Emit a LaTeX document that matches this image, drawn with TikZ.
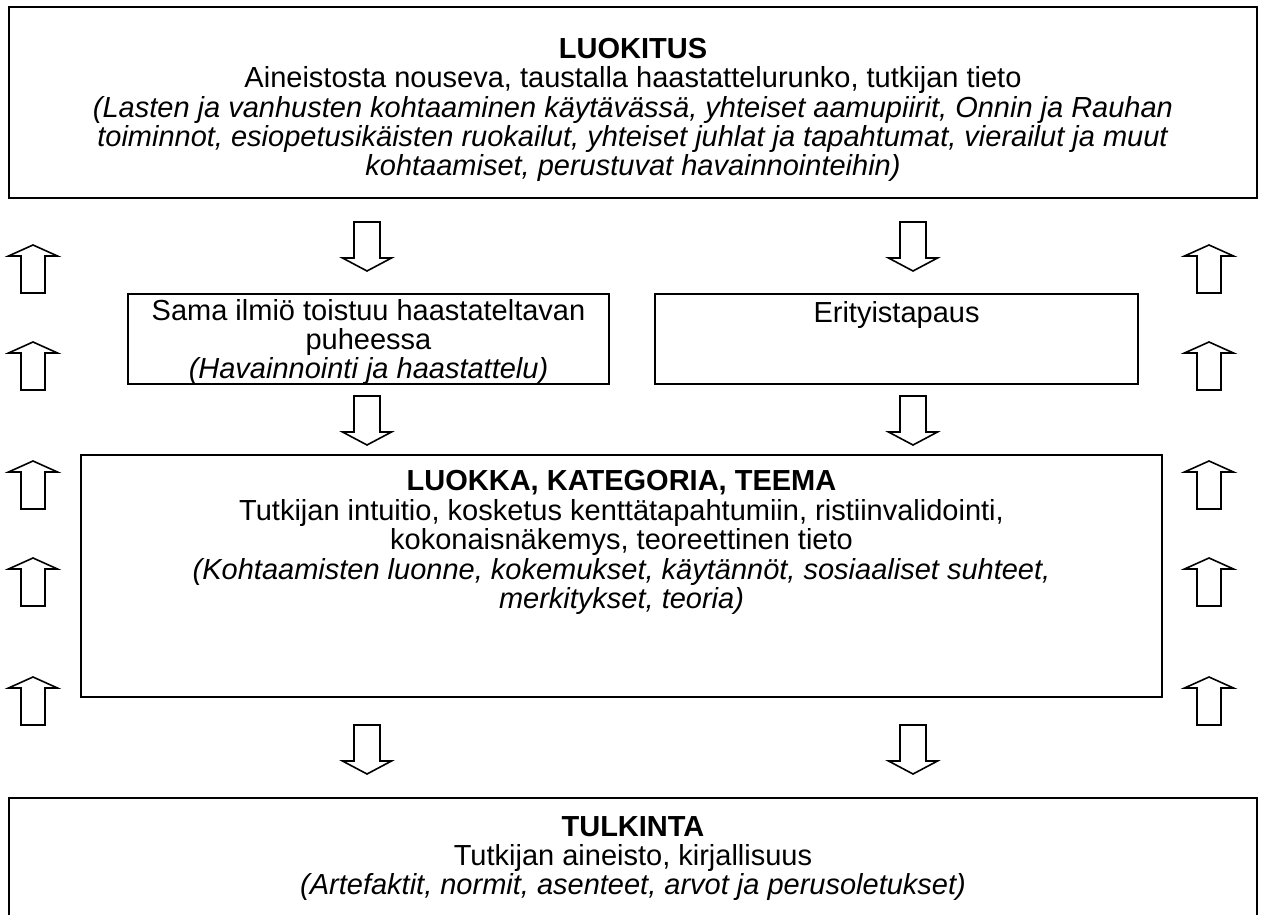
\documentclass[tikz,border=0pt]{standalone}
\usepackage{fontspec}
\setmainfont{Liberation Sans}
\tikzset{
  blockarrow/.style={draw, line width=0.8pt, line join=miter},
  uparr/.pic={\draw[blockarrow] (0,0) -- (24.5,11) -- (12,11) -- (12,48) -- (-12,48) -- (-12,11) -- (-24.5,11) -- cycle;},
  downarr/.pic={\draw[blockarrow] (0,0) -- (24.5,-13) -- (13,-13) -- (13,-49) -- (-13,-49) -- (-13,-13) -- (-24.5,-13) -- cycle;}
}
\begin{document}
\begin{tikzpicture}[x=0.5pt,y=-0.5pt,
    box/.style={draw, line width=1pt, inner sep=0pt},
    txt/.style={align=center, inner sep=0pt, font=\fontsize{14.5}{14.7}\selectfont}]
    \useasboundingbox (0,0) rectangle (1261,914);
    % boxes
    \node[box, minimum width=624pt, minimum height=95.5pt] (luokitus) at (633,102.5) {};
    \node[box, minimum width=240.5pt, minimum height=45pt] (sama) at (368.5,339) {};
    \node[box, minimum width=241.5pt, minimum height=45pt] (erity) at (896.5,339) {};
    \node[box, minimum width=540.5pt, minimum height=121pt] (luokka) at (621.5,576) {};
    \node[box, minimum width=624pt, minimum height=66pt] (tulkinta) at (633,864) {};
    % texts
    \node[txt] (luokitusTxt) at (633,110) {\textbf{LUOKITUS}\\
      Aineistosta nouseva, taustalla haastattelurunko, tutkijan tieto\\
      \textit{(Lasten ja vanhusten kohtaaminen käytävässä, yhteiset aamupiirit, Onnin ja Rauhan}\\
      \textit{toiminnot, esiopetusikäisten ruokailut, yhteiset juhlat ja tapahtumat, vierailut ja muut}\\
      \textit{kohtaamiset, perustuvat havainnointeihin)}};
    \node[txt] (samaTxt) at (368.5,342) {Sama ilmiö toistuu haastateltavan\\ puheessa\\
      \textit{(Havainnointi ja haastattelu)}};
    \node[txt] (erityTxt) at (896.5,315) {Erityistapaus};
    \node[txt] (luokkaTxt) at (621.5,542.5) {\textbf{LUOKKA, KATEGORIA, TEEMA}\\
      Tutkijan intuitio, kosketus kenttätapahtumiin, ristiinvalidointi,\\
      kokonaisnäkemys, teoreettinen tieto\\
      \textit{(Kohtaamisten luonne, kokemukset, käytännöt, sosiaaliset suhteet,}\\
      \textit{merkitykset, teoria)}};
    \node[txt] (tulkintaTxt) at (633,858.5) {\textbf{TULKINTA}\\
      Tutkijan aineisto, kirjallisuus\\
      \textit{(Artefaktit, normit, asenteet, arvot ja perusoletukset)}};
    % arrows
    \foreach \ty in {271,445,774} {
      \pic at (367,\ty) {downarr};
      \pic at (913,\ty) {downarr};
    }
    \foreach \ty in {245,342,461,558,677} {
      \pic at (33,\ty) {uparr};
      \pic at (1209,\ty) {uparr};
    }
\end{tikzpicture}
\end{document}
